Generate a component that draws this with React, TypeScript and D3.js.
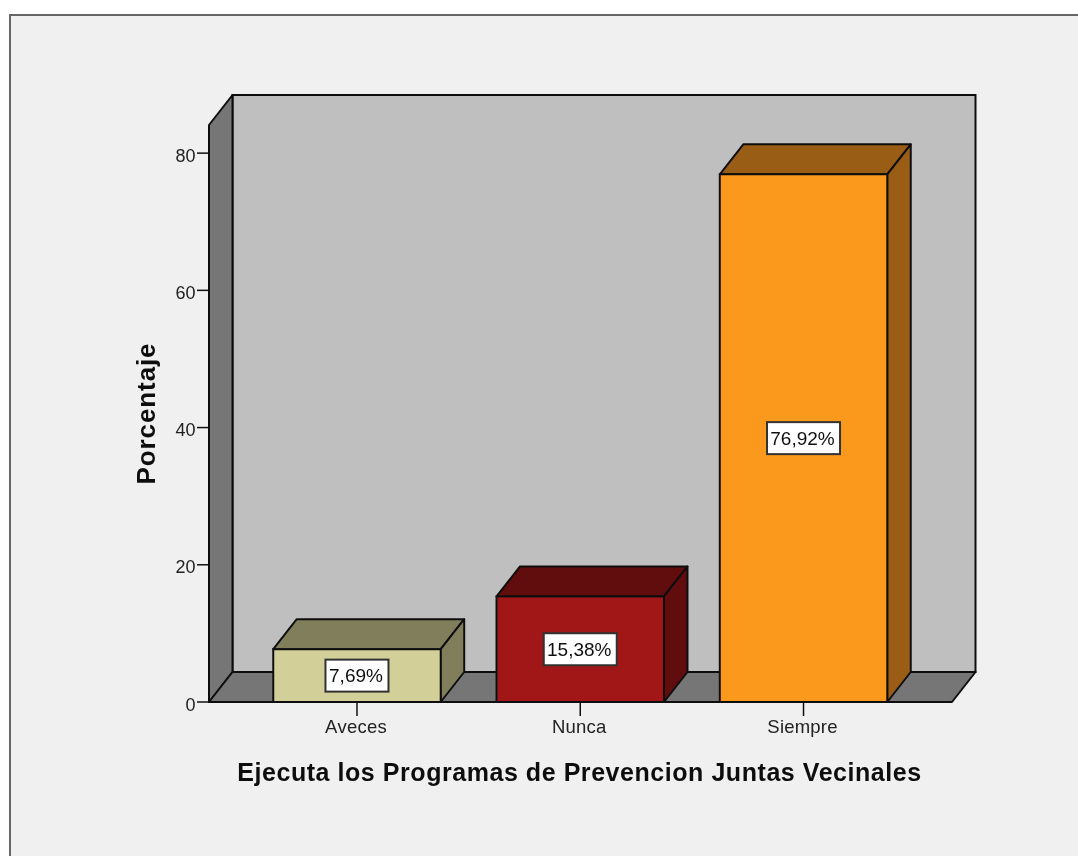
import React from "react";
import * as d3 from "d3";

const categories = ["Aveces", "Nunca", "Siempre"];
const values = [7.69, 15.38, 76.92];
const valueLabels = ["7,69%", "15,38%", "76,92%"];
const frontColors = ["#d3cf98", "#a11516", "#fb991f"];
const sideColors = ["#817e5c", "#620d0e", "#995d13"];
const yTicks = [0, 20, 40, 60, 80];
const yMax = 84.1;
const title = "Ejecuta los Programas de Prevencion Juntas Vecinales";
const yTitle = "Porcentaje";

const W = 1078, H = 856;
const dx = 23.5, dy = -30;
const font = "'Liberation Sans', Arial, sans-serif";
const ink = "#111";

export default function App() {
  const y = d3.scaleLinear().domain([0, yMax]).range([702, 125]);
  const x = d3.scaleBand<string>().domain(categories).range([208.5, 952]).paddingInner(0.25).paddingOuter(0.29);
  const y0 = y(0), yT = y(yMax), xL = 209, xR = 952;
  const poly = (p: [number, number][]) => (d3.line()(p) as string) + "Z";
  return (
    <svg width={W} height={H} style={{ position: "absolute", left: 0, top: 0, display: "block" }}>
      <defs>
        <filter id="soft" x="0" y="0" width="100%" height="100%" filterUnits="userSpaceOnUse">
          <feGaussianBlur stdDeviation={0.45} />
        </filter>
      </defs>
      <rect x={0} y={0} width={W} height={H} fill="#ffffff" />
      <g filter="url(#soft)">
        <rect x={10} y={15} width={W + 10} height={H + 10} fill="#f0f0f0" stroke="#666" strokeWidth={2} />
        {/* back wall */}
        <path d={poly([[xL + dx, yT + dy], [xR + dx, yT + dy], [xR + dx, y0 + dy], [xL + dx, y0 + dy]])} fill="#bfbfbf" stroke={ink} strokeWidth={2} />
        {/* left wall */}
        <path d={poly([[xL, yT], [xL + dx, yT + dy], [xL + dx, y0 + dy], [xL, y0]])} fill="#767676" stroke={ink} strokeWidth={2} strokeLinejoin="round" />
        {/* floor */}
        <path d={poly([[xL, y0], [xL + dx, y0 + dy], [xR + dx, y0 + dy], [xR, y0]])} fill="#767676" stroke={ink} strokeWidth={2} strokeLinejoin="round" />
        {/* y axis */}
        {yTicks.map((t) => (
          <g key={t}>
            <line x1={xL - 12} x2={xL} y1={y(t)} y2={y(t)} stroke={ink} strokeWidth={1.5} />
            <text x={xL - 13.5} y={y(t) + 8.5} textAnchor="end" fontFamily={font} fontSize={18} fill="#222">{t}</text>
          </g>
        ))}
        <text transform="translate(154.5,413.5) rotate(-90)" textAnchor="middle" fontFamily={font} fontWeight="bold" fontSize={26} letterSpacing={0.9} fill="#111">{yTitle}</text>
        {/* bars */}
        {categories.map((c, i) => {
          const x0 = x(c) as number, x1 = x0 + x.bandwidth(), top = y(values[i]);
          const cx = x0 + x.bandwidth() / 2, cy = (top + y0) / 2;
          const bw = valueLabels[i].length === 5 ? 63 : 73;
          return (
            <g key={c}>
              <path d={poly([[x0, top], [x0 + dx, top + dy], [x1 + dx, top + dy], [x1, top]])} fill={sideColors[i]} stroke={ink} strokeWidth={2} strokeLinejoin="round" />
              <path d={poly([[x1, top], [x1 + dx, top + dy], [x1 + dx, y0 + dy], [x1, y0]])} fill={sideColors[i]} stroke={ink} strokeWidth={2} strokeLinejoin="round" />
              <rect x={x0} y={top} width={x.bandwidth()} height={y0 - top} fill={frontColors[i]} stroke={ink} strokeWidth={2} />
              <line x1={cx} x2={cx} y1={y0} y2={y0 + 14} stroke={ink} strokeWidth={1.5} />
              <text x={cx - 1} y={y0 + 31} textAnchor="middle" fontFamily={font} fontSize={18.5} letterSpacing={0.2} fill="#222" style={{ fontKerning: "none" }}>{c}</text>
              <rect x={cx - bw / 2} y={cy - 16} width={bw} height={32} fill="#fff" stroke="#333" strokeWidth={2} />
              <text x={cx - 1} y={cy + 6.5} textAnchor="middle" fontFamily={font} fontSize={19} fill="#111">{valueLabels[i]}</text>
            </g>
          );
        })}
        <text x={579.5} y={780.5} textAnchor="middle" fontFamily={font} fontWeight="bold" fontSize={25} letterSpacing={0.55} fill="#111">{title}</text>
      </g>
    </svg>
  );
}
